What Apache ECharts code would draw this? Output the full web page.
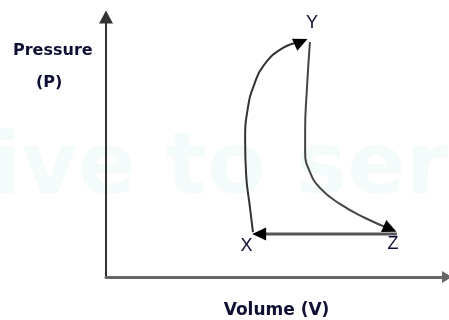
<!DOCTYPE html>
<html>
<head>
<meta charset="utf-8">
<script src="https://cdn.jsdelivr.net/npm/echarts@6/dist/echarts.min.js"></script>
<style>
  html, body { margin: 0; padding: 0; background: #fff; }
  #chart { width: 449px; height: 320px; }
</style>
</head>
<body>
<div id="chart"></div>
<script>
// schematic P-V cycle, arbitrary units (0..100 on both axes)
const xyVolume = [43.1, 42.2, 41.1, 40.8, 41.6, 43.4, 46.3, 51.9, 57.2];
const xyPressure = [17.3, 26.9, 39.2, 52.7, 65.0, 73.8, 81.5, 88.1, 90.4];

const yzVolume = [59.8, 58.9, 58.4, 58.4, 59.8, 62.8, 68.6, 76.0, 83.3];
const yzPressure = [90.4, 71.9, 56.5, 48.1, 40.4, 34.2, 28.1, 22.7, 18.5];

const zxVolume = [85.3, 44.9];
const zxPressure = [16.5, 16.5];

const pointNames = ['X', 'Y', 'Z'];
const pointVolume = [41.2, 60.4, 84.2];
const pointPressure = [12.0, 97.8, 12.5];

// arrow heads at the end of each path
const arrowVolume = [57.2, 83.3, 44.9];
const arrowPressure = [90.4, 18.5, 16.5];
const arrowRotate = [-66, -114, 90];

const zip = (a, b) => a.map((v, i) => [v, b[i]]);

const textColor = '#0f0f33';
const nameFont = { fontFamily: 'DejaVu Sans', fontWeight: 'bold', fontSize: 16, color: textColor };

const chart = echarts.init(document.getElementById('chart'));
chart.setOption({
  animation: false,
  backgroundColor: '#fff',
  title: [
    { text: 'Pressure', left: 8, top: 38, textStyle: nameFont },
    { text: '(P)', left: 31, top: 70, textStyle: nameFont }
  ],
  graphic: [
    {
      type: 'text',
      left: -8,
      top: 128,
      z: -10,
      style: {
        text: 'ive to serv',
        fontFamily: 'DejaVu Sans',
        fontWeight: 'bold',
        fontSize: 86,
        fill: '#f4fbfb'
      }
    }
  ],
  grid: { left: 106, right: 2, top: 17, bottom: 43, outerBoundsMode: 'none' },
  xAxis: {
    type: 'value',
    min: 0,
    max: 100,
    name: 'Volume (V)',
    nameLocation: 'middle',
    nameGap: 25,
    nameTextStyle: Object.assign({}, nameFont, { fontSize: 17 }),
    axisLine: {
      onZero: false,
      lineStyle: { color: '#666', width: 3 },
      symbol: ['none', 'triangle'],
      symbolSize: [12, 10]
    },
    axisTick: { show: false },
    axisLabel: { show: false },
    splitLine: { show: false }
  },
  yAxis: {
    type: 'value',
    min: 0,
    max: 100,
    axisLine: {
      show: true,
      onZero: false,
      lineStyle: { color: '#333', width: 2 },
      symbol: ['none', 'triangle'],
      symbolSize: [14, 13]
    },
    axisTick: { show: false },
    axisLabel: { show: false },
    splitLine: { show: false }
  },
  series: [
    {
      name: 'X to Y',
      type: 'line',
      smooth: 0.5,
      symbol: 'none',
      lineStyle: { color: '#333', width: 2 },
      data: zip(xyVolume, xyPressure)
    },
    {
      name: 'Y to Z',
      type: 'line',
      smooth: 0.5,
      symbol: 'none',
      lineStyle: { color: '#444', width: 2 },
      data: zip(yzVolume, yzPressure)
    },
    {
      name: 'Z to X',
      type: 'line',
      symbol: 'none',
      lineStyle: { color: '#555', width: 3 },
      data: zip(zxVolume, zxPressure)
    },
    {
      name: 'arrows',
      type: 'scatter',
      z: 5,
      itemStyle: { color: '#000', opacity: 1 },
      data: arrowVolume.map((v, i) => ({
        value: [v, arrowPressure[i]],
        symbol: 'triangle',
        symbolSize: [13, 14],
        symbolRotate: arrowRotate[i]
      }))
    },
    {
      name: 'points',
      type: 'scatter',
      symbolSize: 0,
      itemStyle: { opacity: 1 },
      label: {
        show: true,
        position: 'inside',
        formatter: p => p.name,
        fontFamily: 'Liberation Sans',
        fontSize: 18,
        color: textColor,
        opacity: 1
      },
      data: pointNames.map((n, i) => ({ name: n, value: [pointVolume[i], pointPressure[i]] }))
    }
  ]
});
</script>
</body>
</html>
